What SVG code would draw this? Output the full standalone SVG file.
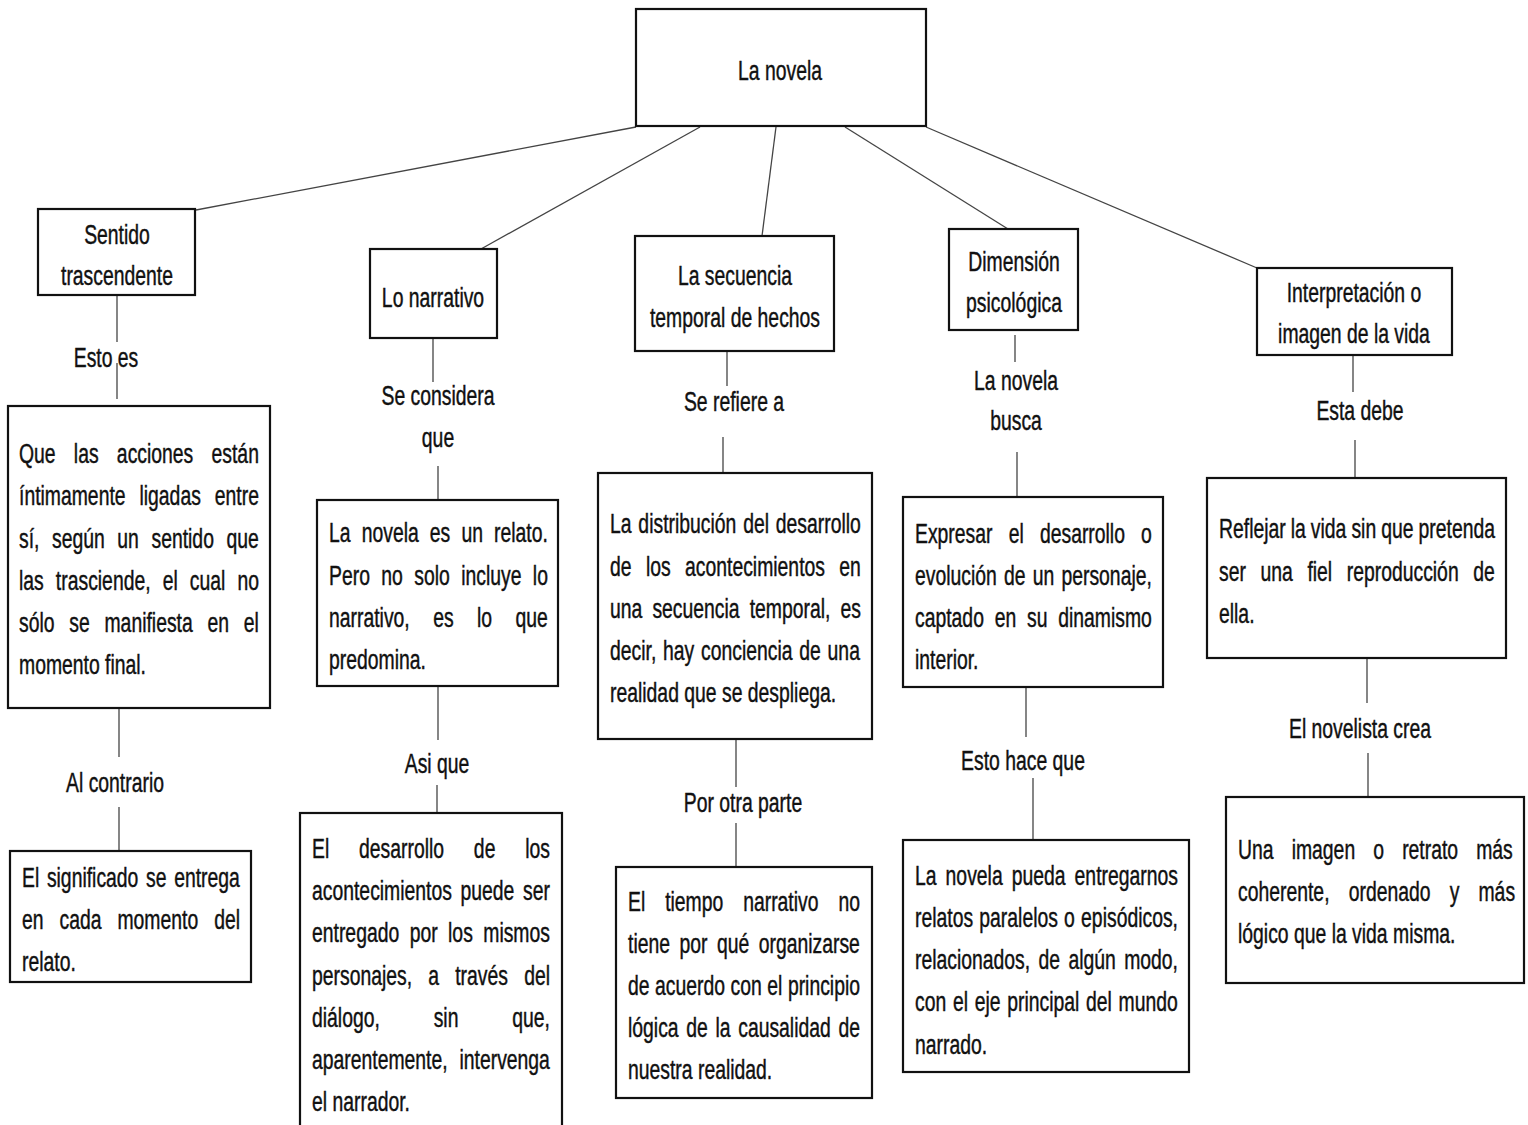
<svg xmlns="http://www.w3.org/2000/svg" width="1528" height="1125" viewBox="0 0 1528 1125">
<style>
.bg{fill:#fff}
.box{fill:#fff;stroke:#111;stroke-width:2.2}
.ln{stroke:#444;stroke-width:1.3;fill:none}
.t{font-family:"Liberation Sans",Arial,sans-serif;font-size:28px;fill:#111;stroke:#111;stroke-width:0.45}
.c{text-anchor:middle}
</style>
<rect class="bg" x="0" y="0" width="1528" height="1125"/>
<g id="connectors">
<line class="ln" x1="636" y1="127" x2="196" y2="210"/>
<line class="ln" x1="700" y1="127" x2="481" y2="249"/>
<line class="ln" x1="776" y1="127" x2="762" y2="236"/>
<line class="ln" x1="845" y1="127" x2="1008" y2="229"/>
<line class="ln" x1="926" y1="127" x2="1257" y2="268"/>
<line class="ln" x1="117" y1="296" x2="117" y2="342"/>
<line class="ln" x1="117" y1="363" x2="117" y2="399"/>
<line class="ln" x1="119" y1="709" x2="119" y2="757"/>
<line class="ln" x1="119" y1="807" x2="119" y2="851"/>
<line class="ln" x1="433" y1="339" x2="433" y2="382"/>
<line class="ln" x1="438" y1="466" x2="438" y2="500"/>
<line class="ln" x1="438" y1="686" x2="438" y2="740"/>
<line class="ln" x1="437" y1="785" x2="437" y2="813"/>
<line class="ln" x1="727" y1="352" x2="727" y2="386"/>
<line class="ln" x1="723" y1="437" x2="723" y2="473"/>
<line class="ln" x1="736" y1="739" x2="736" y2="787"/>
<line class="ln" x1="736" y1="823" x2="736" y2="867"/>
<line class="ln" x1="1015" y1="335" x2="1015" y2="362"/>
<line class="ln" x1="1017" y1="452" x2="1017" y2="497"/>
<line class="ln" x1="1026" y1="687" x2="1026" y2="737"/>
<line class="ln" x1="1033" y1="778" x2="1033" y2="840"/>
<line class="ln" x1="1353" y1="356" x2="1353" y2="392"/>
<line class="ln" x1="1355" y1="440" x2="1355" y2="478"/>
<line class="ln" x1="1367" y1="658" x2="1367" y2="703"/>
<line class="ln" x1="1368" y1="753" x2="1368" y2="797"/>
<text class="t c" transform="translate(106,367) scale(0.692,1)">Esto es</text>
<text class="t c" transform="translate(115,792) scale(0.692,1)">Al contrario</text>
<text class="t c" transform="translate(438,405) scale(0.692,1)">Se considera</text>
<text class="t c" transform="translate(438,447) scale(0.692,1)">que</text>
<text class="t c" transform="translate(437,773) scale(0.692,1)">Asi que</text>
<text class="t c" transform="translate(734,411) scale(0.692,1)">Se refiere a</text>
<text class="t c" transform="translate(743,812) scale(0.692,1)">Por otra parte</text>
<text class="t c" transform="translate(1016,390) scale(0.692,1)">La novela</text>
<text class="t c" transform="translate(1016,430) scale(0.692,1)">busca</text>
<text class="t c" transform="translate(1023,770) scale(0.692,1)">Esto hace que</text>
<text class="t c" transform="translate(1360,420) scale(0.692,1)">Esta debe</text>
<text class="t c" transform="translate(1360,738) scale(0.692,1)">El novelista crea</text>
</g>
<g id="root">
<rect class="box" x="636" y="9" width="290" height="117"/>
<text class="t c" transform="translate(780,80) scale(0.692,1)">La novela</text>
</g>
<g id="n-sentido">
<rect class="box" x="38" y="209" width="157" height="86"/>
<text class="t c" transform="translate(117,244) scale(0.692,1)">Sentido</text>
<text class="t c" transform="translate(117,285) scale(0.692,1)">trascendente</text>
</g>
<g id="n-narrativo">
<rect class="box" x="370" y="249" width="127" height="89"/>
<text class="t c" transform="translate(433,307) scale(0.692,1)">Lo narrativo</text>
</g>
<g id="n-secuencia">
<rect class="box" x="635" y="236" width="199" height="115"/>
<text class="t c" transform="translate(735,285) scale(0.692,1)">La secuencia</text>
<text class="t c" transform="translate(735,327) scale(0.692,1)">temporal de hechos</text>
</g>
<g id="n-dimension">
<rect class="box" x="949" y="229" width="129" height="101"/>
<text class="t c" transform="translate(1014,271) scale(0.692,1)">Dimensión</text>
<text class="t c" transform="translate(1014,312) scale(0.692,1)">psicológica</text>
</g>
<g id="n-interpretacion">
<rect class="box" x="1257" y="268" width="195" height="87"/>
<text class="t c" transform="translate(1354,302) scale(0.692,1)">Interpretación o</text>
<text class="t c" transform="translate(1354,343) scale(0.692,1)">imagen de la vida</text>
</g>
<g id="d-sentido">
<rect class="box" x="8" y="406" width="262" height="302"/>
<text class="t" transform="translate(19,463) scale(0.692,1)" style="word-spacing:18.6px">Que las acciones están</text>
<text class="t" transform="translate(19,505) scale(0.692,1)" style="word-spacing:12.35px">íntimamente ligadas entre</text>
<text class="t" transform="translate(19,548) scale(0.692,1)" style="word-spacing:10.4px">sí, según un sentido que</text>
<text class="t" transform="translate(19,590) scale(0.692,1)" style="word-spacing:9.7px">las trasciende, el cual no</text>
<text class="t" transform="translate(19,632) scale(0.692,1)" style="word-spacing:13.55px">sólo se manifiesta en el</text>
<text class="t" transform="translate(19,674) scale(0.692,1)">momento final.</text>
</g>
<g id="d-significado">
<rect class="box" x="10" y="851" width="241" height="131"/>
<text class="t" transform="translate(22,887) scale(0.692,1)" style="word-spacing:3.3px">El significado se entrega</text>
<text class="t" transform="translate(22,929) scale(0.692,1)" style="word-spacing:15.3px">en cada momento del</text>
<text class="t" transform="translate(22,971) scale(0.692,1)">relato.</text>
</g>
<g id="d-relato">
<rect class="box" x="317" y="500" width="241" height="186"/>
<text class="t" transform="translate(329,542) scale(0.692,1)" style="word-spacing:8.3px">La novela es un relato.</text>
<text class="t" transform="translate(329,585) scale(0.692,1)" style="word-spacing:8.7px">Pero no solo incluye lo</text>
<text class="t" transform="translate(329,627) scale(0.692,1)" style="word-spacing:26.1px">narrativo, es lo que</text>
<text class="t" transform="translate(329,669) scale(0.692,1)">predomina.</text>
</g>
<g id="d-desarrollo">
<rect class="box" x="300" y="813" width="262" height="330"/>
<text class="t" transform="translate(312,858) scale(0.692,1)" style="word-spacing:35.3px">El desarrollo de los</text>
<text class="t" transform="translate(312,900) scale(0.692,1)" style="word-spacing:4.65px">acontecimientos puede ser</text>
<text class="t" transform="translate(312,942) scale(0.692,1)" style="word-spacing:7.3px">entregado por los mismos</text>
<text class="t" transform="translate(312,985) scale(0.692,1)" style="word-spacing:15.6px">personajes, a través del</text>
<text class="t" transform="translate(312,1027) scale(0.692,1)" style="word-spacing:70px">diálogo, sin que,</text>
<text class="t" transform="translate(312,1069) scale(0.692,1)" style="word-spacing:9.3px">aparentemente, intervenga</text>
<text class="t" transform="translate(312,1111) scale(0.692,1)">el narrador.</text>
</g>
<g id="d-distribucion">
<rect class="box" x="598" y="473" width="274" height="266"/>
<text class="t" transform="translate(610,533) scale(0.692,1)" style="word-spacing:2.1px">La distribución del desarrollo</text>
<text class="t" transform="translate(610,576) scale(0.692,1)" style="word-spacing:13px">de los acontecimientos en</text>
<text class="t" transform="translate(610,618) scale(0.692,1)" style="word-spacing:6.8px">una secuencia temporal, es</text>
<text class="t" transform="translate(610,660) scale(0.692,1)" style="word-spacing:2px">decir, hay conciencia de una</text>
<text class="t" transform="translate(610,702) scale(0.692,1)">realidad que se despliega.</text>
</g>
<g id="d-tiempo">
<rect class="box" x="616" y="867" width="256" height="231"/>
<text class="t" transform="translate(628,911) scale(0.692,1)" style="word-spacing:21px">El tiempo narrativo no</text>
<text class="t" transform="translate(628,953) scale(0.692,1)" style="word-spacing:5.9px">tiene por qué organizarse</text>
<text class="t" transform="translate(628,995) scale(0.692,1)" style="word-spacing:0.2px">de acuerdo con el principio</text>
<text class="t" transform="translate(628,1037) scale(0.692,1)" style="word-spacing:3.3px">lógica de la causalidad de</text>
<text class="t" transform="translate(628,1079) scale(0.692,1)">nuestra realidad.</text>
</g>
<g id="d-expresar">
<rect class="box" x="903" y="497" width="260" height="190"/>
<text class="t" transform="translate(915,543) scale(0.692,1)" style="word-spacing:15.6px">Expresar el desarrollo o</text>
<text class="t" transform="translate(915,585) scale(0.692,1)" style="word-spacing:2.6px">evolución de un personaje,</text>
<text class="t" transform="translate(915,627) scale(0.692,1)" style="word-spacing:7.8px">captado en su dinamismo</text>
<text class="t" transform="translate(915,669) scale(0.692,1)">interior.</text>
</g>
<g id="d-paralelos">
<rect class="box" x="903" y="840" width="286" height="232"/>
<text class="t" transform="translate(915,885) scale(0.692,1)" style="word-spacing:5.3px">La novela pueda entregarnos</text>
<text class="t" transform="translate(915,927) scale(0.692,1)" style="word-spacing:1.2px">relatos paralelos o episódicos,</text>
<text class="t" transform="translate(915,969) scale(0.692,1)" style="word-spacing:4.3px">relacionados, de algún modo,</text>
<text class="t" transform="translate(915,1011) scale(0.692,1)" style="word-spacing:1.9px">con el eje principal del mundo</text>
<text class="t" transform="translate(915,1054) scale(0.692,1)">narrado.</text>
</g>
<g id="d-reflejar">
<rect class="box" x="1207" y="478" width="299" height="180"/>
<text class="t" transform="translate(1219,538) scale(0.692,1)" style="word-spacing:-0.5px">Reflejar la vida sin que pretenda</text>
<text class="t" transform="translate(1219,581) scale(0.692,1)" style="word-spacing:13.3px">ser una fiel reproducción de</text>
<text class="t" transform="translate(1219,623) scale(0.692,1)">ella.</text>
</g>
<g id="d-imagen">
<rect class="box" x="1226" y="797" width="298" height="186"/>
<text class="t" transform="translate(1238,859) scale(0.692,1)" style="word-spacing:18.4px">Una imagen o retrato más</text>
<text class="t" transform="translate(1238,901) scale(0.692,1)" style="word-spacing:19.9px">coherente, ordenado y más</text>
<text class="t" transform="translate(1238,943) scale(0.692,1)">lógico que la vida misma.</text>
</g>
</svg>
